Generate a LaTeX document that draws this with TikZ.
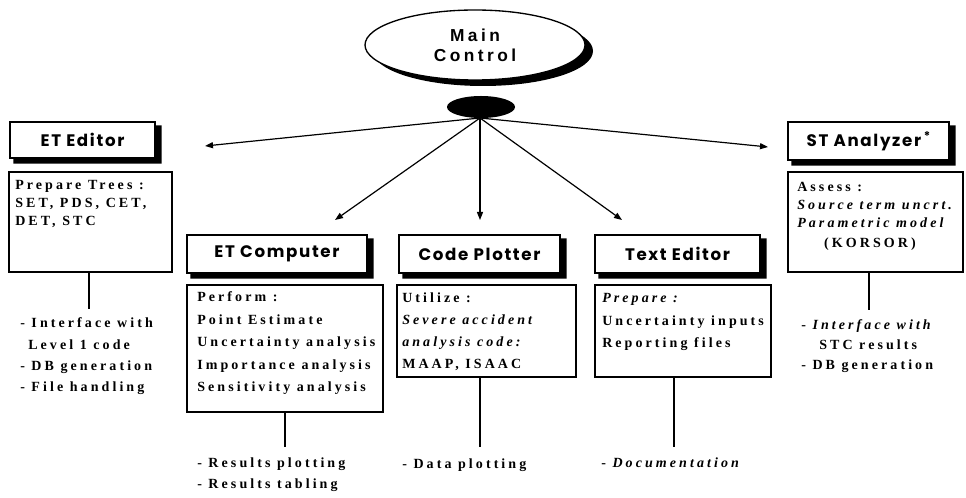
\documentclass[tikz,border=0pt]{standalone}
\usepackage{fontspec}
\setmainfont{Liberation Serif}
\newfontfamily\hdfont{Poppins}[LetterSpace=10]
\newfontfamily\mcfont{Liberation Sans}[LetterSpace=20]
\newfontfamily\ctfont{Liberation Serif}[LetterSpace=22]
\usetikzlibrary{arrows.meta,shapes.geometric}
\tikzset{
  hdbox/.style={draw, line width=1.1pt, fill=white, inner sep=0pt, minimum height=28.5pt,
    font=\hdfont\bfseries\fontsize{12.5}{14}\selectfont},
  shadowfill/.style={fill=black},
  ctbox/.style={draw, line width=1.1pt, fill=white, inner sep=0pt},
  ctext/.style={anchor=base west, inner sep=0pt, font=\ctfont\bfseries\fontsize{10.5}{12}\selectfont},
  conn/.style={line width=0.9pt},
  arr/.style={line width=0.9pt, -{Triangle[length=6pt,width=4.5pt]}}
}
\newcommand\hdshadow[1]{%
  \fill[shadowfill] ([shift={(0,4)}]#1.north east) -- ([shift={(6,4)}]#1.north east)
    -- ([shift={(6,5)}]#1.south east) -- ([shift={(4,5)}]#1.south west)
    -- ([shift={(4,0)}]#1.south west) -- (#1.south east) -- cycle;}
\begin{document}
\begin{tikzpicture}[x=0.75pt,y=-0.75pt]
\useasboundingbox (0,0) rectangle (966,498);
% main control
\fill[shadowfill] (483,51) ellipse [x radius=110, y radius=35];
\node[ellipse, draw, line width=1pt, fill=white, minimum width=165pt, minimum height=52.5pt,
  inner sep=0pt, align=center, font=\mcfont\bfseries\fontsize{13}{15}\selectfont]
  (main) at (475,45) {Main\\Control};
\node[ellipse, fill=black, minimum width=51pt, minimum height=16.5pt, inner sep=0pt] (bk) at (481,107) {};
\coordinate (hub) at (480,118);
% headers
\node[hdbox, minimum width=108.75pt, minimum height=27pt] (ete) at (82.5,140) {ET Editor};
\node[hdbox, minimum width=135pt] (etc) at (277,254) {ET Computer};
\node[hdbox, minimum width=120.75pt] (cp) at (479.5,254) {Code Plotter};
\node[hdbox, minimum width=123.75pt] (te) at (677.5,254) {Text Editor};
\node[hdbox, minimum width=120.75pt] (st) at (868.5,141) {ST Analyzer\,\raisebox{0.35em}{\fontsize{9}{9}\selectfont*}};
\hdshadow{ete}
\hdshadow{etc}
\hdshadow{cp}
\hdshadow{te}
\hdshadow{st}
% arrow tips
\coordinate (t1) at (205,146);
\coordinate (t2) at (335,220);
\coordinate (t3) at (480,220);
\coordinate (t4) at (622,220);
\coordinate (t5) at (768,147);
\foreach \k in {1,...,5} \draw[arr] (hub) -- (t\k);
% content boxes
\node[ctbox, minimum width=122.25pt, minimum height=75pt] (etec) at (90.5,222) {};
\node[ctbox, minimum width=147pt, minimum height=95.25pt] (etcc) at (285,348.5) {};
\node[ctbox, minimum width=134.25pt, minimum height=69pt] (cpc) at (486.5,331) {};
\node[ctbox, minimum width=132pt, minimum height=69pt] (tec) at (683,331) {};
\node[ctbox, minimum width=131.25pt, minimum height=75pt] (stc) at (875.5,222) {};
% content texts
\foreach \t [count=\i from 0] in {{Prepare Trees :},{SET, PDS, CET,},{DET, STC}}
  \node[ctext] (etet\i) at (15,{190+18*\i}) {\t};
\foreach \t [count=\i from 0] in {{Perform :},{Point Estimate},{Uncertainty analysis},{Importance analysis},{Sensitivity analysis}}
  \node[ctext] (etct\i) at (197,{302+22.5*\i}) {\t};
\foreach \t [count=\i from 0] in {{Utilize :},{\itshape Severe accident},{\itshape analysis code:},{MAAP, ISAAC}}
  \node[ctext] (cpt\i) at (402,{303+21.7*\i}) {\t};
\foreach \t [count=\i from 0] in {{\itshape Prepare :},{Uncertainty inputs},{Reporting files}}
  \node[ctext] (tet\i) at (602,{303+22.5*\i}) {\t};
\foreach \t [count=\i from 0] in {{Assess :},{\itshape Source term uncrt.},{\itshape Parametric model}}
  \node[ctext] (stt\i) at (797,{192+17.8*\i}) {\t};
\node[ctext, anchor=base] (stt3) at (870,248) {(KORSOR)};
% connectors down
\coordinate (e1) at (89,309);
\coordinate (e2) at (285,447);
\coordinate (e3) at (480,447);
\coordinate (e4) at (674,447);
\coordinate (e5) at (869,310);
\draw[conn] (e1 |- etec.south) -- (e1);
\draw[conn] (e2 |- etcc.south) -- (e2);
\draw[conn] (e3 |- cpc.south) -- (e3);
\draw[conn] (e4 |- tec.south) -- (e4);
\draw[conn] (e5 |- stc.south) -- (e5);
% bullets
\node[ctext] (b1a) at (20,328) {- Interface with};
\node[ctext] (b1b) at (28,349.3) {Level 1 code};
\node[ctext] (b1c) at (20,370.6) {- DB generation};
\node[ctext] (b1d) at (20,392) {- File handling};
\node[ctext] (b2a) at (197,467) {- Results plotting};
\node[ctext] (b2b) at (197,488) {- Results tabling};
\node[ctext] (b3a) at (402,468) {- Data plotting};
\node[ctext] (b4a) at (601,467) {- {\itshape Documentation}};
\node[ctext] (b5a) at (801,330) {- {\itshape Interface with}};
\node[ctext] (b5b) at (819,350) {STC results};
\node[ctext] (b5c) at (801,370) {- DB generation};
\end{tikzpicture}
\end{document}
